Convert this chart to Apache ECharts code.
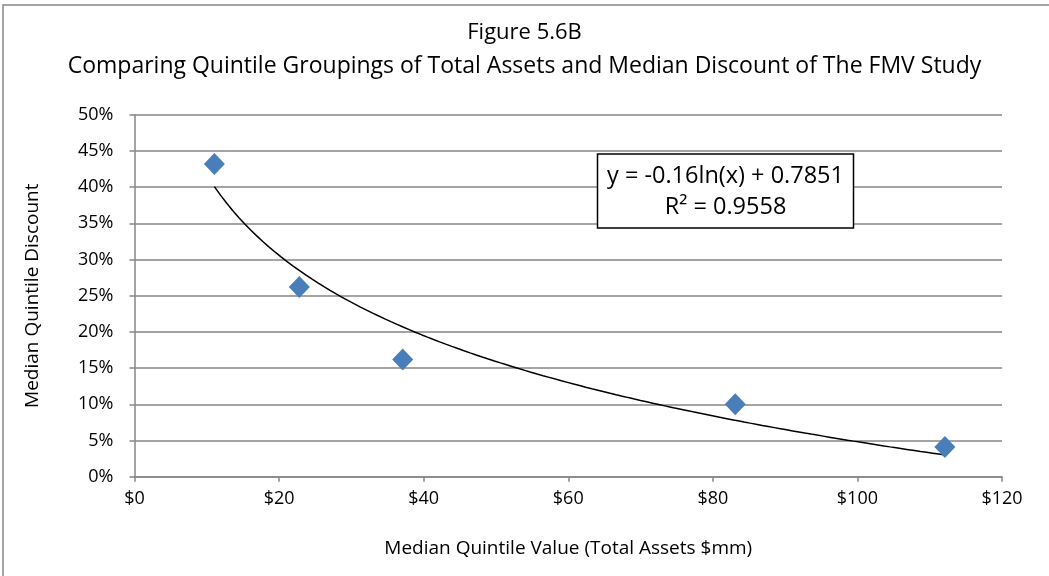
<!DOCTYPE html>
<html>
<head>
<meta charset="utf-8">
<script src="https://cdn.jsdelivr.net/npm/echarts@6/dist/echarts.min.js"></script>
<style>html,body{margin:0;padding:0;background:#fff;}#c{width:1049px;height:576px;}</style>
</head>
<body>
<div id="c"></div>
<script>
// Data
const assetsX = [11.05, 22.8, 37.1, 83.1, 112.1];          // Median Quintile Value ($mm)
const discountY = [0.432, 0.262, 0.162, 0.100, 0.041];     // Median Quintile Discount
const trendSlope = -0.16;      // from displayed equation
const trendIntercept = 0.7851;
const rSquared = '0.9558';
const xTicks = [0, 20, 40, 60, 80, 100, 120];
const yTicks = [0, 0.05, 0.10, 0.15, 0.20, 0.25, 0.30, 0.35, 0.40, 0.45, 0.50];

const FONT = 'Open Sans';
const points = assetsX.map((x, i) => [x, discountY[i]]);
const xmin = Math.min(...assetsX), xmax = Math.max(...assetsX);
const trend = [];
const N = 120;
for (let i = 0; i <= N; i++) {
  const x = xmin + (xmax - xmin) * i / N;
  trend.push([x, trendSlope * Math.log(x) + trendIntercept]);
}

const chart = echarts.init(document.getElementById('c'), null, {renderer: 'canvas'});
chart.setOption({
  animation: false,
  backgroundColor: '#fff',
  textStyle: {fontFamily: FONT},
  title: [
    {text: 'Figure 5.6B', left: 'center', top: 17, textStyle: {fontFamily: FONT, fontSize: 22, fontWeight: 'normal', color: '#000'}},
    {text: 'Comparing Quintile Groupings of Total Assets and Median Discount of The FMV Study', left: 'center', top: 50, textStyle: {fontFamily: FONT, fontSize: 23, fontWeight: 'normal', color: '#000'}}
  ],
  grid: {left: 134.5, right: 47, top: 114.7, bottom: 99.3},
  xAxis: {
    type: 'value', min: xTicks[0], max: xTicks[xTicks.length - 1], interval: 20,
    name: 'Median Quintile Value (Total Assets $mm)', nameLocation: 'middle', nameGap: 62,
    nameTextStyle: {fontFamily: FONT, fontSize: 19, color: '#000'},
    axisLine: {show: true, lineStyle: {color: '#868686', width: 1.5}},
    axisTick: {show: true, length: 5, lineStyle: {color: '#868686', width: 1.5}},
    axisLabel: {fontFamily: FONT, fontSize: 18, color: '#000', margin: 13, formatter: v => '$' + v},
    splitLine: {show: false}
  },
  yAxis: {
    type: 'value', min: yTicks[0], max: yTicks[yTicks.length - 1], interval: 0.05,
    name: 'Median Quintile Discount', nameLocation: 'middle', nameGap: 92, nameRotate: 90,
    nameTextStyle: {fontFamily: FONT, fontSize: 19, color: '#000'},
    axisLine: {show: true, lineStyle: {color: '#868686', width: 1.5}},
    axisTick: {show: true, length: 5, lineStyle: {color: '#868686', width: 1.5}},
    axisLabel: {fontFamily: FONT, fontSize: 18, color: '#000', margin: 21, formatter: v => Math.round(v * 100) + '%'},
    splitLine: {show: true, lineStyle: {color: '#868686', width: 1.5}}
  },
  series: [
    {type: 'line', data: trend, showSymbol: false, symbol: 'none', smooth: false,
     lineStyle: {color: '#000', width: 1.5}, z: 2},
    {type: 'scatter', data: points, symbol: 'diamond', symbolSize: [21, 22],
     itemStyle: {color: '#4a7ebb', opacity: 1}, z: 3}
  ],
  graphic: [
    {type: 'rect', shape: {x: 3, y: 5, width: 1100, height: 700}, style: {fill: 'none', stroke: '#868686', lineWidth: 1.5}, z: -1, silent: true},
    {type: 'rect', shape: {x: 597.5, y: 154, width: 256, height: 74}, style: {fill: '#fff', stroke: '#000', lineWidth: 1.5}, z: 10},
    {type: 'text', x: 725.5, y: 176, style: {text: 'y = -0.16ln(x) + 0.7851', fontFamily: FONT, fontSize: 23.5, fill: '#000', align: 'center', verticalAlign: 'middle'}, z: 11},
    {type: 'text', x: 725.5, y: 207, style: {text: 'R² = ' + rSquared, fontFamily: FONT, fontSize: 23.5, fill: '#000', align: 'center', verticalAlign: 'middle'}, z: 11}
  ]
});
</script>
</body>
</html>
